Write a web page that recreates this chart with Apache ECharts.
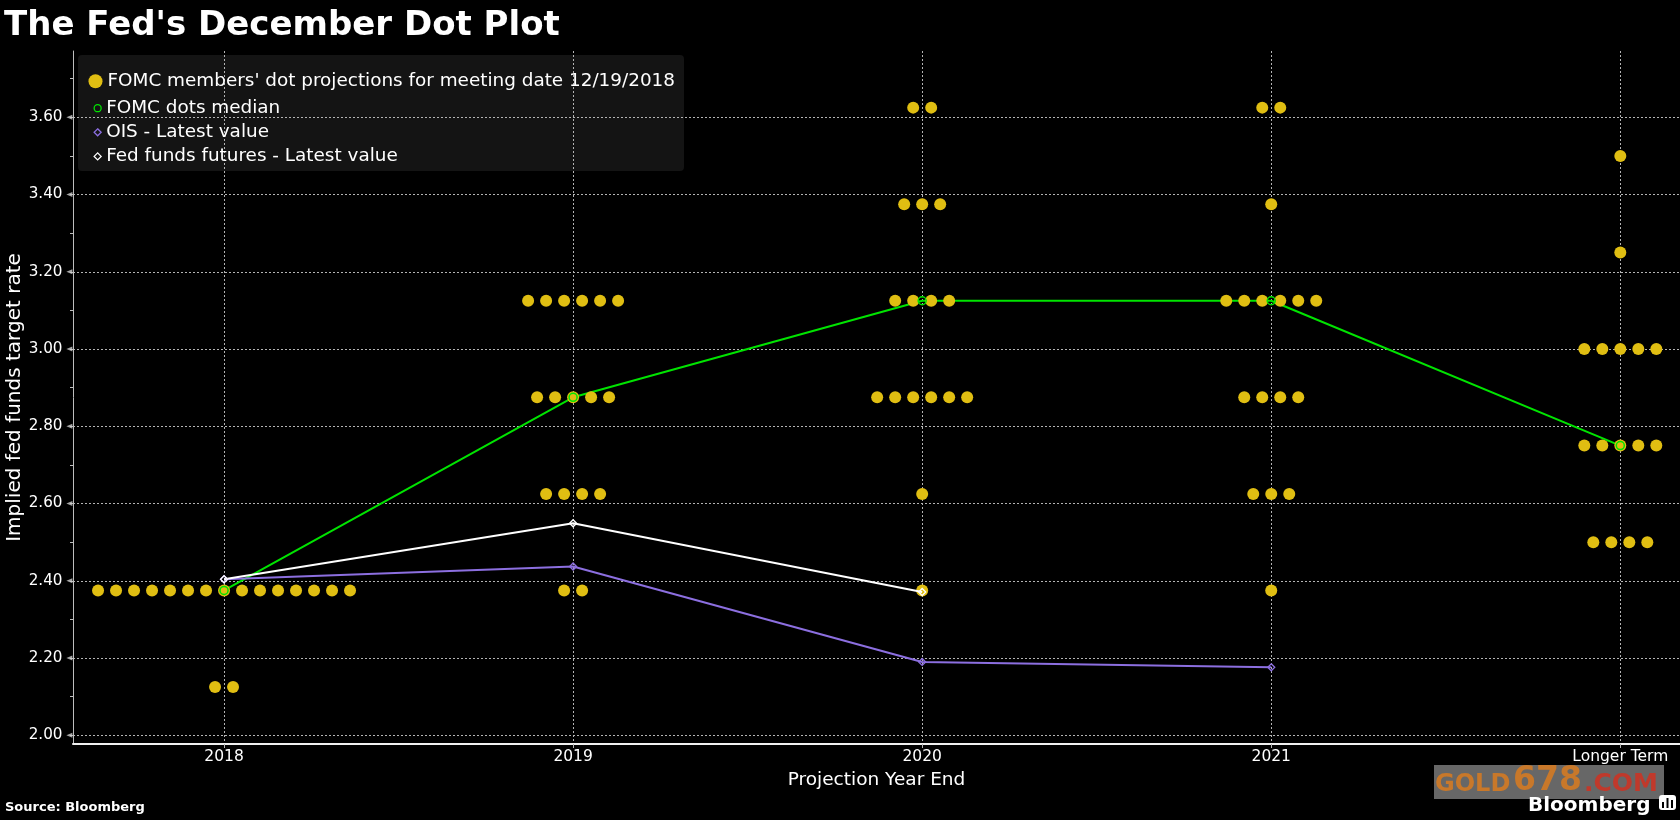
<!DOCTYPE html>
<html>
<head>
<meta charset="utf-8">
<script src="https://cdn.jsdelivr.net/npm/echarts@6/dist/echarts.min.js"></script>
<style>
html,body{margin:0;padding:0;background:#000;}
#chart{width:1680px;height:820px;}
</style>
</head>
<body>
<div id="chart"></div>
<script>
// ---------------- DATA ----------------
const categories = ['2018', '2019', '2020', '2021', 'Longer Term'];
// FOMC dot projections per projection year: [rate, number of participants]
const dots2018 = [[2.375, 15], [2.125, 2]];
const dots2019 = [[3.125, 6], [2.875, 5], [2.625, 4], [2.375, 2]];
const dots2020 = [[3.625, 2], [3.375, 3], [3.125, 4], [2.875, 6], [2.625, 1], [2.375, 1]];
const dots2021 = [[3.625, 2], [3.375, 1], [3.125, 6], [2.875, 4], [2.625, 3], [2.375, 1]];
const dotsLongerTerm = [[3.50, 1], [3.25, 1], [3.00, 5], [2.75, 5], [2.50, 4]];
const medianValues = [2.375, 2.875, 3.125, 3.125, 2.75];
const oisValues = [2.404, 2.437, 2.190, 2.176];
const fedFundsFuturesValues = [2.404, 2.549, 2.371];
const yTickLabels = ['2.00', '2.20', '2.40', '2.60', '2.80', '3.00', '3.20', '3.40', '3.60'];
const yMinorTickLabels = ['2.10', '2.30', '2.50', '2.70', '2.90', '3.10', '3.30', '3.50', '3.70'];

const DOTS_NAME = "FOMC members' dot projections for meeting date 12/19/2018";
const MEDIAN_NAME = 'FOMC dots median';
const OIS_NAME = 'OIS - Latest value';
const FF_NAME = 'Fed funds futures - Latest value';

// ---------------- LAYOUT / STYLE ----------------
const W = 1680;
const GRID = { left: 73, right: 0, top: 51, bottom: 76 };
const X_MIN = -0.4327, X_MAX = 4.171;
const Y_MIN = 1.9775, Y_MAX = 3.7716;
const DOT_SPACING_PX = 18;
const FONT = 'DejaVu Sans';
const YELLOW = '#e0be12';
const GREEN = '#00e400';
const PURPLE = '#8c6fe0';
const WHITE = '#ffffff';
const GRIDLINE = { color: '#b4b4b4', type: [2, 2], width: 1 };

const pxPerUnitX = (W - GRID.left - GRID.right) / (X_MAX - X_MIN);
const dotStep = DOT_SPACING_PX / pxPerUnitX;

const dotGroups = [dots2018, dots2019, dots2020, dots2021, dotsLongerTerm];
const dotData = [];
dotGroups.forEach((group, c) => {
  group.forEach(([rate, count]) => {
    for (let i = 0; i < count; i++) {
      dotData.push([c + (i - (count - 1) / 2) * dotStep, rate]);
    }
  });
});

const yTickValues = yTickLabels.map(Number);
const yAllTickValues = yTickValues.concat(yMinorTickLabels.map(Number));
const xTickValues = categories.map((_, i) => i);
const toPairs = arr => arr.map((v, i) => [i, v]);

const chart = echarts.init(document.getElementById('chart'), null, { renderer: 'canvas' });

const option = {
  backgroundColor: '#000000',
  animation: false,
  textStyle: { fontFamily: FONT },
  title: {
    text: "The Fed's December Dot Plot",
    left: 4, top: 9.5, padding: 0,
    textStyle: { color: WHITE, fontSize: 34, fontWeight: 'bold', fontFamily: FONT }
  },
  grid: { left: GRID.left, right: GRID.right, top: GRID.top, bottom: GRID.bottom, containLabel: false, outerBoundsMode: 'none' },
  legend: [
    {
      orient: 'vertical', left: 88.5, top: 72.3, padding: 0,
      itemWidth: 14, itemHeight: 14,
      selectedMode: false,
      data: [{ name: DOTS_NAME, icon: 'circle' }],
      textStyle: { color: WHITE, fontSize: 18.4, fontFamily: FONT }
    },
    {
      orient: 'vertical', left: 93.5, top: 99.2, padding: 0,
      itemWidth: 7, itemHeight: 7, itemGap: 6.1,
      selectedMode: false,
      data: [
        { name: MEDIAN_NAME, icon: 'circle', itemStyle: { color: 'transparent', borderColor: GREEN, borderWidth: 1.3 } },
        { name: OIS_NAME, icon: 'diamond', itemStyle: { color: 'transparent', borderColor: PURPLE, borderWidth: 1.3 } },
        { name: FF_NAME, icon: 'diamond', itemStyle: { color: 'transparent', borderColor: WHITE, borderWidth: 1.3 } }
      ],
      textStyle: { color: WHITE, fontSize: 18.4, fontFamily: FONT }
    }
  ],
  xAxis: {
    type: 'value', min: X_MIN, max: X_MAX,
    name: 'Projection Year End', nameLocation: 'middle', nameGap: 27, nameMoveOverlap: false,
    nameTextStyle: { color: WHITE, fontSize: 18.5, fontFamily: FONT },
    axisLine: { show: true, onZero: false, lineStyle: { color: '#f0f0f0', width: 2 } },
    axisTick: { show: true, customValues: xTickValues, length: 4, lineStyle: { color: '#b4b4b4' } },
    axisLabel: {
      customValues: xTickValues, color: WHITE, fontSize: 15.5, fontFamily: FONT, margin: 5,
      formatter: v => categories[Math.round(v)]
    },
    splitLine: { show: true, lineStyle: GRIDLINE }
  },
  yAxis: [
    {
      type: 'value', min: Y_MIN, max: Y_MAX, position: 'left',
      name: 'Implied fed funds target rate', nameLocation: 'middle', nameGap: 48, nameMoveOverlap: false,
      nameTextStyle: { color: WHITE, fontSize: 20, fontFamily: FONT },
      axisLine: { show: true, onZero: false, lineStyle: { color: '#bdbdbd', width: 1 } },
      axisTick: { show: false, customValues: yTickValues },
      axisLabel: { customValues: yTickValues, color: WHITE, fontSize: 15.2, fontFamily: FONT, margin: 10.5, formatter: v => v.toFixed(2) },
      splitLine: { show: true, lineStyle: GRIDLINE }
    },
    {
      type: 'value', min: Y_MIN, max: Y_MAX, position: 'left', offset: 0,
      axisLine: { show: false, onZero: false },
      axisTick: { show: true, customValues: yAllTickValues, length: 3, lineStyle: { color: '#bdbdbd' } },
      axisLabel: { show: false },
      splitLine: { show: false }
    }
  ],
  graphic: [
    { type: 'rect', z: -100, shape: { x: 78, y: 55, width: 606, height: 116, r: 4 }, style: { fill: '#141414' } },
    { type: 'text', style: { x: 5, y: 807.5, text: 'Source: Bloomberg', fill: WHITE, font: 'bold 13px "DejaVu Sans"', verticalAlign: 'middle' } },
    { type: 'rect', shape: { x: 1434, y: 765, width: 230, height: 34 }, style: { fill: '#676767' } },
    { type: 'text', style: { x: 1435, y: 796.6, text: 'GOLD', fill: '#c8782a', font: 'bold 24px "DejaVu Sans"', verticalAlign: 'bottom' } },
    { type: 'text', style: { x: 1513, y: 798.4, text: '678', fill: '#c8782a', font: 'bold 33px "DejaVu Sans"', verticalAlign: 'bottom' } },
    { type: 'text', style: { x: 1584, y: 796.6, text: '.COM', fill: '#c0392b', font: 'bold 25px "DejaVu Sans"', verticalAlign: 'bottom' } },
    { type: 'text', style: { x: 1528, y: 805.8, text: 'Bloomberg', fill: WHITE, font: 'bold 20px "DejaVu Sans"', verticalAlign: 'middle' } },
    { type: 'rect', shape: { x: 1659, y: 795, width: 17, height: 15, r: 3 }, style: { fill: WHITE } },
    { type: 'rect', shape: { x: 1662, y: 802, width: 2, height: 6 }, style: { fill: '#000' } },
    { type: 'rect', shape: { x: 1666.5, y: 798, width: 2, height: 10 }, style: { fill: '#000' } },
    { type: 'rect', shape: { x: 1671, y: 800, width: 2, height: 8 }, style: { fill: '#000' } }
  ],
  series: [
    {
      name: MEDIAN_NAME, type: 'line', z: 2, symbol: 'none',
      data: toPairs(medianValues),
      lineStyle: { color: GREEN, width: 2 },
      itemStyle: { color: GREEN }
    },
    {
      name: DOTS_NAME, type: 'scatter', z: 3, symbol: 'circle', symbolSize: 12,
      data: dotData,
      itemStyle: { color: YELLOW, opacity: 1 }
    },
    {
      name: MEDIAN_NAME, type: 'scatter', z: 4, symbol: 'circle', symbolSize: 8,
      data: toPairs(medianValues),
      itemStyle: { color: 'transparent', borderColor: GREEN, borderWidth: 1.5, opacity: 1 }
    },
    {
      name: OIS_NAME, type: 'line', z: 5, symbol: 'diamond', symbolSize: 7, showSymbol: true,
      data: toPairs(oisValues),
      lineStyle: { color: PURPLE, width: 2 },
      itemStyle: { color: 'transparent', borderColor: PURPLE, borderWidth: 1.3 }
    },
    {
      name: FF_NAME, type: 'line', z: 5, symbol: 'diamond', symbolSize: 7, showSymbol: true,
      data: toPairs(fedFundsFuturesValues),
      lineStyle: { color: WHITE, width: 2 },
      itemStyle: { color: 'transparent', borderColor: WHITE, borderWidth: 1.3 }
    },
    {
      name: 'axis-tick-markers', type: 'scatter', z: 6, silent: true, clip: false,
      symbol: 'triangle', symbolRotate: 90, symbolSize: [5, 6], symbolOffset: [-3.6, 0],
      data: yTickValues.map(v => [X_MIN, v]),
      itemStyle: { color: '#d0d0d0' }
    }
  ]
};

chart.setOption(option);
</script>
</body>
</html>
